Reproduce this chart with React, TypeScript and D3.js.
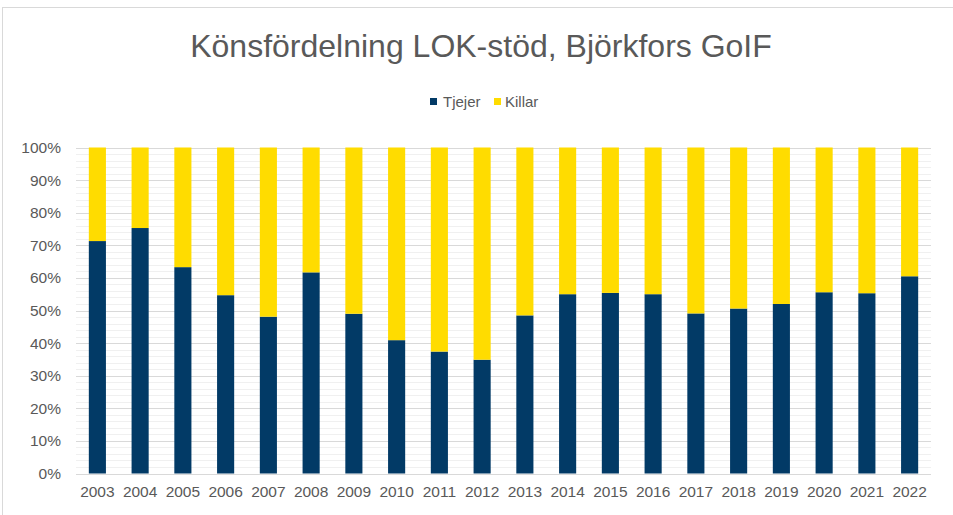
import React from 'react'
import * as d3 from 'd3'

const years = ['2003', '2004', '2005', '2006', '2007', '2008', '2009', '2010', '2011', '2012',
  '2013', '2014', '2015', '2016', '2017', '2018', '2019', '2020', '2021', '2022']
const tjejer = [71.3, 75.3, 63.3, 54.7, 48.1, 61.7, 49.0, 40.9, 37.4, 34.9,
  48.5, 55.0, 55.4, 55.0, 49.1, 50.6, 52.0, 55.6, 55.3, 60.5]
const killar = [28.7, 24.7, 36.7, 45.3, 51.9, 38.3, 51.0, 59.1, 62.6, 65.1,
  51.5, 45.0, 44.6, 45.0, 50.9, 49.4, 48.0, 44.4, 44.7, 39.5]
const yTicks = [0, 10, 20, 30, 40, 50, 60, 70, 80, 90, 100]
const minorTicks = d3.range(0, 101, 2)

const NAVY = '#023a66'
const YELLOW = '#ffdc00'
const TEXT = '#595959'
const FONT = '"Liberation Sans", Arial, sans-serif'

const App = () => {
  const width = 953
  const height = 515
  const left = 76
  const right = 931
  const top = 147.5
  const bottom = 473.5

  const x = d3.scaleBand<string>()
    .domain(years)
    .range([left, right])
    .paddingInner(0.6)
    .paddingOuter(0.3)

  const y = d3.scaleLinear().domain([0, 100]).range([bottom, top])

  const stacked = d3.stack<number>()
    .keys(['tjejer', 'killar'])
    .value((i, key) => (key === 'tjejer' ? tjejer[i] : killar[i]))(d3.range(years.length))
  const colors = [NAVY, YELLOW]

  return (
    <svg width={width} height={height} style={{ position: 'absolute', left: 0, top: 0 }}>
      <rect x={0} y={0} width={width} height={height} fill="#fff" />
      <rect x={2.5} y={7.5} width={width + 10} height={height + 10} fill="#fff" stroke="#d9d9d9" strokeWidth={1} />
      <text x={481} y={57} textAnchor="middle" fontFamily={FONT} fontSize={32} fill={TEXT}>
        Könsfördelning LOK-stöd, Björkfors GoIF
      </text>
      {/* legend */}
      <g fontFamily={FONT} fontSize={15} fill={TEXT}>
        <rect x={430} y={98} width={7} height={7} fill={NAVY} />
        <text x={443} y={107}>Tjejer</text>
        <rect x={494} y={98} width={7} height={7} fill={YELLOW} />
        <text x={505} y={107}>Killar</text>
      </g>
      {/* grid */}
      {minorTicks.filter(t => t % 10 !== 0).map(t => (
        <line key={'m' + t} x1={left} x2={right} y1={Math.round(y(t)) + 0.5} y2={Math.round(y(t)) + 0.5}
          stroke="#f0f0f0" strokeWidth={1} />
      ))}
      {yTicks.map(t => (
        <g key={'g' + t}>
          <line x1={left} x2={right} y1={Math.round(y(t)) + 0.5} y2={Math.round(y(t)) + 0.5}
            stroke="#d9d9d9" strokeWidth={1} />
          <text x={61} y={y(t) + 5.5} textAnchor="end" fontFamily={FONT} fontSize={15.5} fill={TEXT}>
            {t}%
          </text>
        </g>
      ))}
      {/* bars */}
      {stacked.map((layer, li) => (
        <g key={layer.key} fill={colors[li]}>
          {layer.map((d, i) => (
            <rect key={years[i]} x={x(years[i])} width={x.bandwidth()}
              y={y(d[1])} height={y(d[0]) - y(d[1])} />
          ))}
        </g>
      ))}
      {years.map(yr => (
        <text key={'x' + yr} x={(x(yr) as number) + x.bandwidth() / 2} y={497} textAnchor="middle"
          fontFamily={FONT} fontSize={15.5} fill={TEXT}>
          {yr}
        </text>
      ))}
    </svg>
  )
}

export default App
